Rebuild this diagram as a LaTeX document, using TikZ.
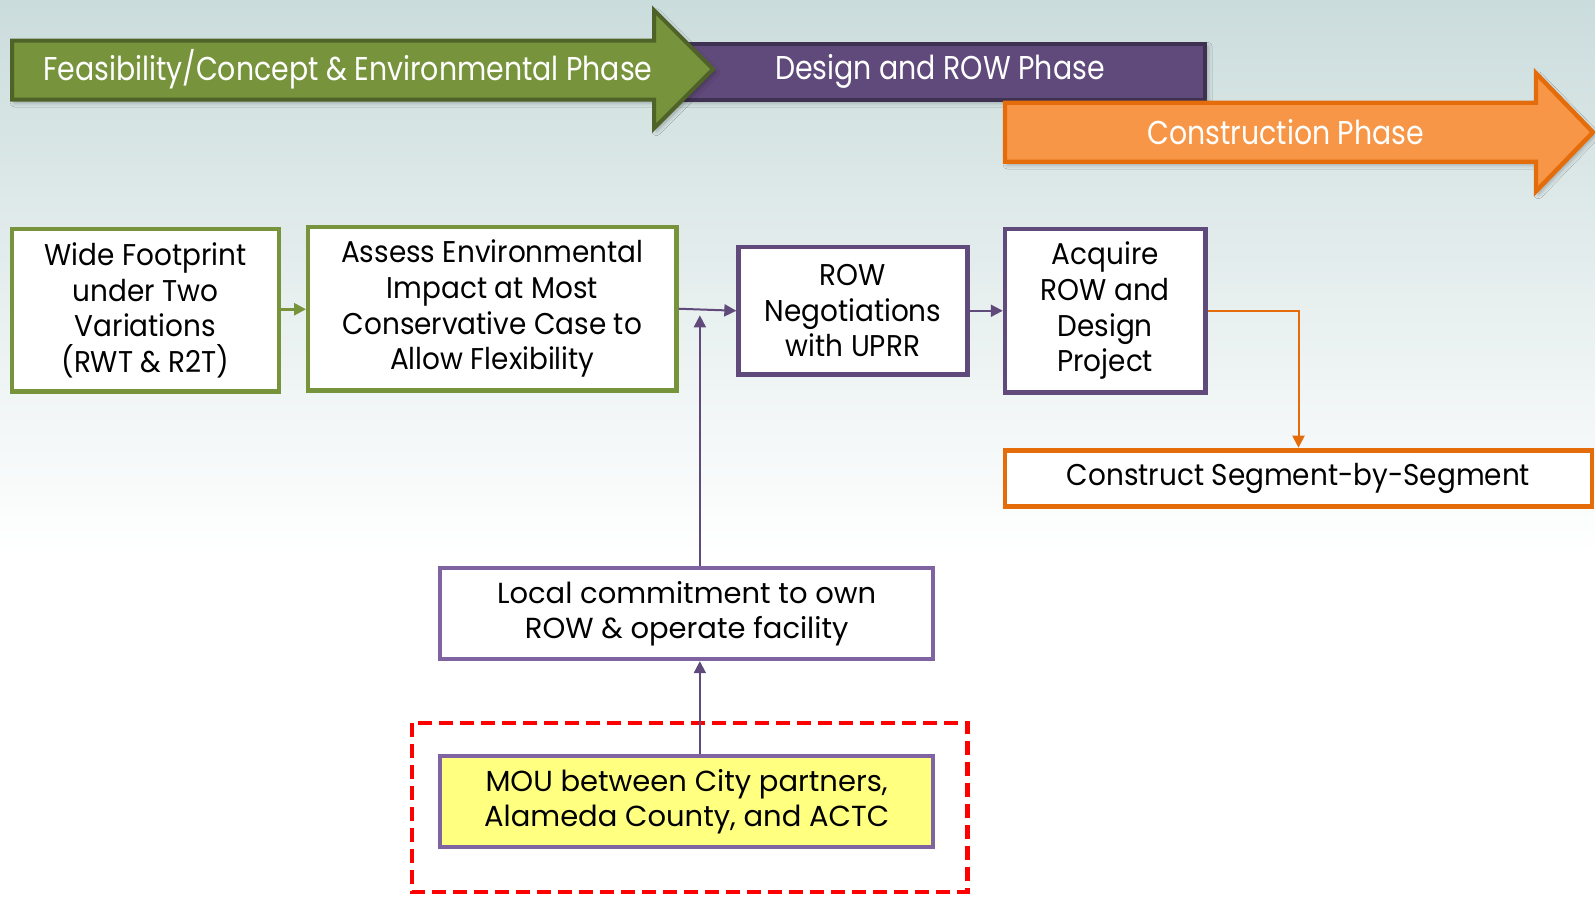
\documentclass[tikz,border=0pt]{standalone}
\usepackage{fontspec}
\setmainfont{Poppins}
\newfontfamily\narrowfont[FakeStretch=0.93]{Poppins}
\newfontfamily\bannerfont[FakeStretch=0.86]{Poppins}
\usepackage{tikz}
\usetikzlibrary{arrows.meta,positioning,shadows.blur}
\definecolor{BgTop}{HTML}{CBDCDC}
\definecolor{Olive}{HTML}{77933C}
\definecolor{DarkOlive}{HTML}{4F6228}
\definecolor{Plum}{HTML}{604A7B}
\definecolor{DarkPlum}{HTML}{3F3151}
\definecolor{Lilac}{HTML}{8064A2}
\definecolor{Tangerine}{HTML}{F79646}
\definecolor{Rust}{HTML}{E46C0A}
\definecolor{Lemon}{HTML}{FFFF80}
\definecolor{Alarm}{HTML}{FF0000}

\begin{document}
\begin{tikzpicture}[x=0.5086pt,y=-0.5086pt,
  phase/.style={text=white,font=\bannerfont\fontsize{16.5}{19}\selectfont},
  shade/.style={blur shadow={shadow xshift=1.2pt,shadow yshift=-1.5pt,shadow opacity=30,shadow blur steps=6}},
  gbox/.style={draw=Olive,line width=2.2pt,fill=white,align=center,
    font=\narrowfont\fontsize{15}{17.8}\selectfont,inner sep=2pt},
  pbox/.style={gbox,draw=Plum},
  lbox/.style={gbox,draw=Lilac,line width=2pt,font=\fontsize{14.5}{17.6}\selectfont},
  obox/.style={gbox,draw=Rust,line width=2.4pt},
  garr/.style={-{Triangle[length=6pt,width=6pt]},line width=1.3pt,draw=Olive},
  parr/.style={-{Triangle[length=6pt,width=6pt]},line width=1pt,draw=Plum},
  oarr/.style={-{Triangle[length=6pt,width=6pt]},line width=1pt,draw=Rust}
]
  \useasboundingbox (0,0) rectangle (1568,881);

  % background
  \fill[white] (0,0) rectangle (1568,881);
  \fill[top color=BgTop,bottom color=white] (0,0) rectangle (1568,545);

  % phase banners
  \fill[Plum,draw=DarkPlum,line width=2pt,shade] (655,43) rectangle (1185,98);
  \node[phase] (design) at (924,70) {Design and ROW Phase};
  \filldraw[fill=Tangerine,draw=Rust,line width=2.2pt,shade]
    (988,101) -- (1510,101) -- (1510,72) -- (1566,130) -- (1510,188)
    -- (1510,159) -- (988,159) -- cycle;
  \node[phase] (build) at (1264,130) {Construction Phase};
  \filldraw[fill=Olive,draw=DarkOlive,line width=2pt,shade]
    (12,40) -- (643,40) -- (643,10) -- (701,68) -- (643,126)
    -- (643,98) -- (12,98) -- cycle;
  \node[phase] (feas) at (342,68) {Feasibility/Concept \& Environmental Phase};

  % project steps
  \node[gbox,minimum width=133.3pt,minimum height=81.4pt] (wide) at (143,305)
    {Wide Footprint\\under Two\\Variations\\(RWT \& R2T)};
  \node[gbox,minimum width=184.1pt,minimum height=81.9pt] (assess) at (484,303.5)
    {Assess Environmental\\Impact at Most\\Conservative Case to\\Allow Flexibility};
  \node[pbox,minimum width=114.4pt,minimum height=63.6pt] (row) at (838.5,305.5)
    {ROW\\Negotiations\\with UPRR};
  \node[pbox,minimum width=100.2pt,minimum height=81.9pt] (acquire) at (1086.5,305.5)
    {Acquire\\ROW and\\Design\\Project};
  \node[obox,minimum width=293.5pt,minimum height=28pt] (segments) at (1276.5,470)
    {Construct Segment-by-Segment};

  % local agreements
  \node[lbox,minimum width=246.2pt,minimum height=45.8pt] (local) at (675,603)
    {Local commitment to own\\ROW \& operate facility};
  \draw[Alarm,line width=2.2pt,dash pattern=on 7pt off 3.5pt] (405,711) rectangle (951,877);
  \node[lbox,fill=Lemon,minimum width=246.2pt,minimum height=45.8pt] (mou) at (675,788)
    {MOU between City partners,\\Alameda County, and ACTC};

  % connectors
  \coordinate (merge) at (688,310);
  \draw[garr] (wide.east |- 0,304) -- (assess.west |- 0,304);
  \draw[parr] (assess.east) -- (row.west);
  \draw[parr] (row.east) -- (acquire.west);
  \draw[oarr] (acquire.east) -| (segments.north);
  \draw[parr] (local.north -| merge) -- (merge);
  \draw[parr] (mou.north -| merge) -- (local.south -| merge);
\end{tikzpicture}
\end{document}
